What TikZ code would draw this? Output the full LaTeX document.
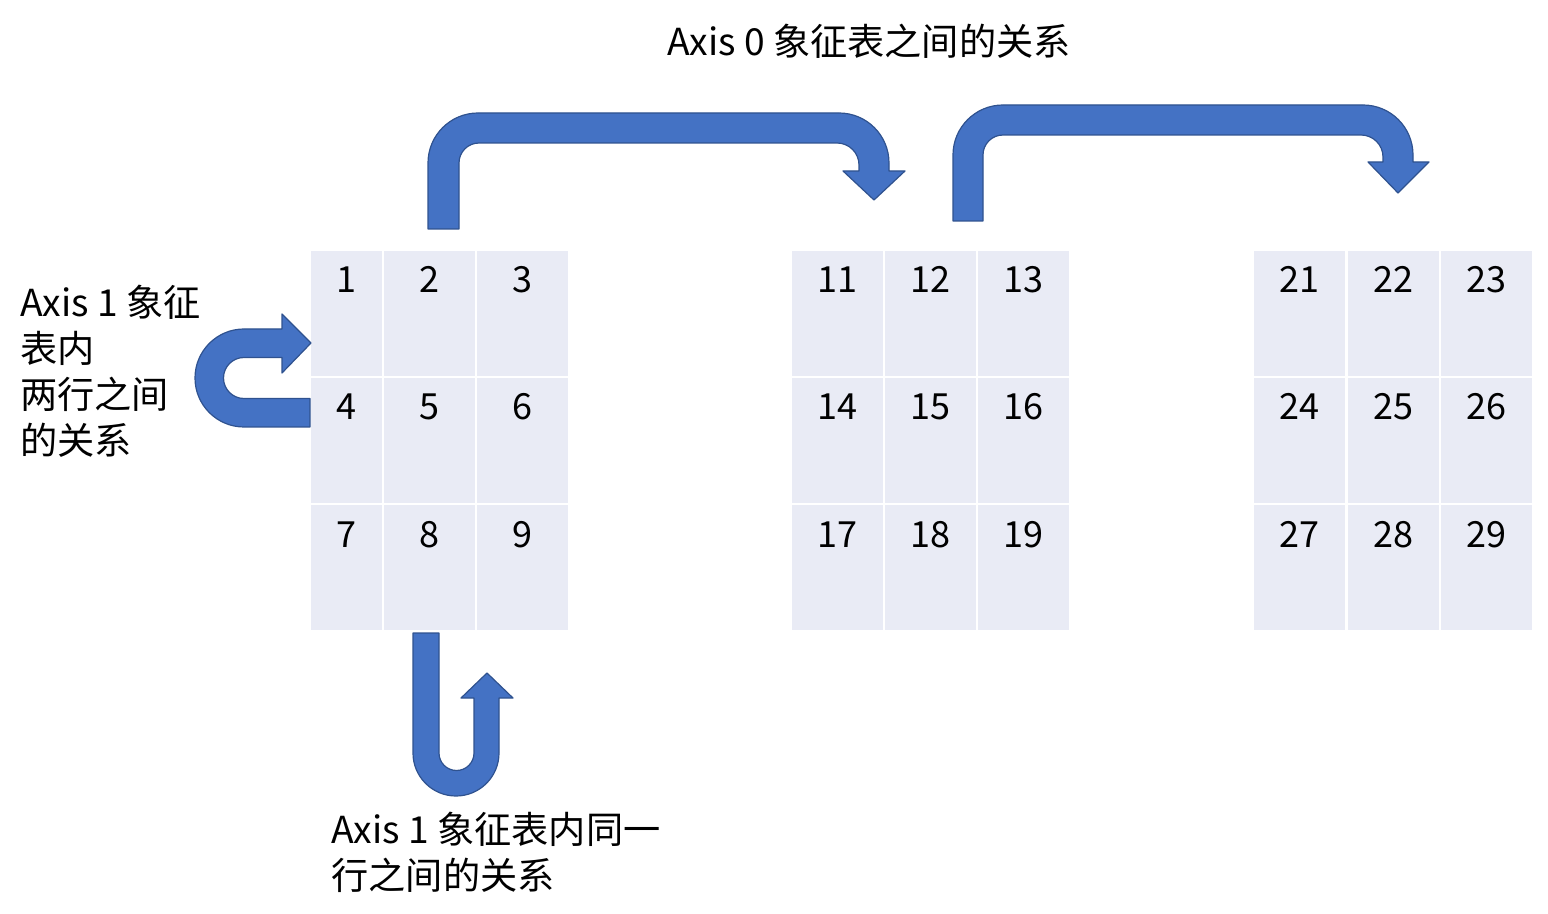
\documentclass[tikz,border=0pt]{standalone}
\usepackage{fontspec}
\setmainfont{Noto Sans CJK SC}
\usepackage{tikz}
\usetikzlibrary{positioning}

\definecolor{cellfill}{HTML}{E9EBF5}
\definecolor{arrowfill}{HTML}{4472C4}
\definecolor{arrowline}{HTML}{2F528F}

\tikzstyle{cell} = [
    rectangle,
    fill=cellfill,
    inner sep=0pt,
    outer sep=0pt
]
\tikzstyle{num} = [
    inner sep=0pt,
    anchor=base,
    font=\fontsize{18pt}{22pt}\selectfont
]
\tikzstyle{lbl} = [
    inner sep=0pt,
    align=left,
    font=\fontsize{18.6pt}{23pt}\selectfont
]
\tikzstyle{bigarrow} = [
    fill=arrowfill,
    draw=arrowline,
    line width=0.6pt,
    line join=round
]

\begin{document}
\begin{tikzpicture}[x=0.5pt, y=-0.5pt]

\useasboundingbox (0,0) rectangle (1548,914);

% the three tables
\foreach \l/\r/\c in {311/382/1, 384/475/2, 477/568/3,
                       792/883/11, 885/976/12, 978/1069/13,
                       1254/1345/21, 1348/1439/22, 1441/1532/23}
  \foreach \t/\b/\dr in {251/376/0, 378/503/3, 505/630/6} {
    \pgfmathtruncatemacro{\n}{\c+\dr}
    \node (c\n) [cell, minimum width={(\r-\l)*0.5pt},
                 minimum height={(\b-\t)*0.5pt}]
      at ({(\l+\r)/2},{(\t+\b)/2}) {};
    \node (n\n) [num] at ([yshift=-21pt]c\n.north) {\n};
  }

% labels
\node (axis0) [lbl, anchor=base] at (869,56)
{Axis 0 象征表之间的关系};

\node (axis1rows) [lbl, anchor=base west] at (20,455)
{Axis 1 象征\\表内\\两行之间\\的关系};

\node (axis1row) [lbl, anchor=base west] at (331,889)
{Axis 1 象征表内同一\\行之间的关系};

% arrows between tables
\draw [bigarrow] (428,229) -- (428,163)
  arc[start angle=180, end angle=90, radius=25pt] -- (839,113)
  arc[start angle=90, end angle=0, radius=25pt] -- (889,171)
  -- (905,171) -- (874,200) -- (843,171) -- (859,171) -- (859,165)
  arc[start angle=0, end angle=90, radius=11pt] -- (479,143)
  arc[start angle=90, end angle=180, radius=10pt] -- (459,229) -- cycle;

\draw [bigarrow] (953,221) -- (953,155)
  arc[start angle=180, end angle=90, radius=25pt] -- (1363,105)
  arc[start angle=90, end angle=0, radius=25pt] -- (1413,162)
  -- (1429,162) -- (1398,193) -- (1368,162) -- (1383,162) -- (1383,157)
  arc[start angle=0, end angle=90, radius=11pt] -- (1003,135)
  arc[start angle=90, end angle=180, radius=10pt] -- (983,221) -- cycle;

% arrow between two rows
\draw [bigarrow] (310,427) -- (244,427)
  arc[start angle=270, end angle=90, radius=24.5pt] -- (282,329)
  -- (282,314) -- (311,343) -- (282,373) -- (282,357.5) -- (244,357.5)
  arc[start angle=90, end angle=270, radius=10.25pt] -- (310,398.5) -- cycle;

% arrow inside one row
\draw [bigarrow] (413,633) -- (413,753)
  arc[start angle=180, end angle=360, radius=21.5pt] -- (499,698)
  -- (513,698) -- (487,673) -- (461,698) -- (474,698) -- (474,753)
  arc[start angle=0, end angle=-180, radius=8.75pt] -- (439,633) -- cycle;

\end{tikzpicture}
\end{document}
